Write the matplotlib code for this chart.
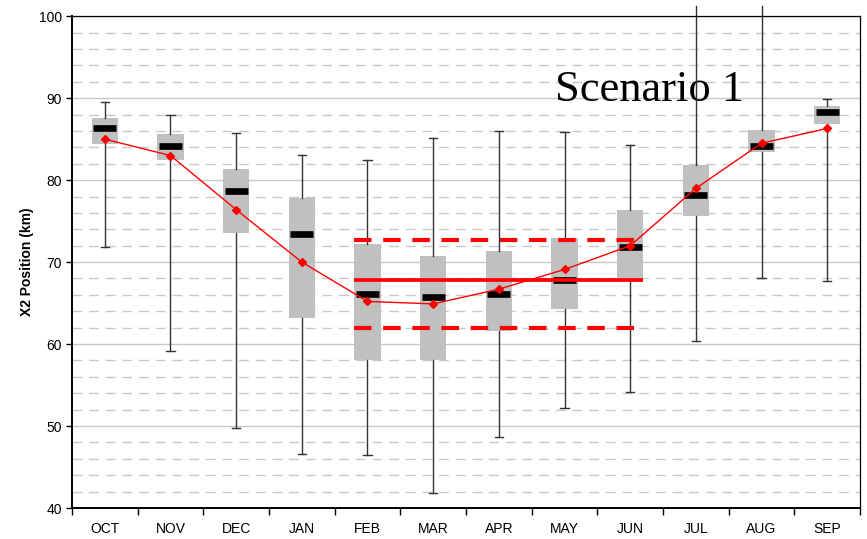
"""
X2 position box plots by month, scenario 1
"""
import numpy as np
import matplotlib.pyplot as plt
from matplotlib.ticker import MultipleLocator, FixedLocator

#%%
# data

months = ["OCT", "NOV", "DEC", "JAN", "FEB", "MAR",
          "APR", "MAY", "JUN", "JUL", "AUG", "SEP"]

whis_lo = [71.9, 59.1, 49.7, 46.6, 46.5, 41.8, 48.7, 52.2, 54.1, 60.4, 68.0, 67.7]
q1      = [84.4, 82.5, 73.6, 63.2, 58.1, 58.1, 61.6, 64.3, 67.8, 75.6, 83.4, 86.9]
median  = [86.4, 84.2, 78.7, 73.4, 66.1, 65.8, 66.1, 67.8, 71.9, 78.2, 84.2, 88.3]
q3      = [87.6, 85.6, 81.3, 77.8, 72.2, 70.7, 71.3, 72.9, 76.4, 81.9, 86.1, 89.0]
whis_hi = [89.5, 88.0, 85.7, 83.1, 82.5, 85.1, 86.0, 85.9, 84.3, 101.3, 101.3, 89.9]
mean    = [85.0, 83.0, 76.4, 70.0, 65.2, 64.9, 66.7, 69.1, 72.0, 79.0, 84.5, 86.3]

# reference band Feb - Jun
band_mid = 67.8
band_hi = 72.7
band_lo = 62.0

#%%
fig = plt.figure(figsize=(8.67, 5.39), dpi=100)
ax = fig.add_axes([0.083, 0.0575, 0.909, 0.9125])

x = np.arange(len(months))

stats = []
for i in range(len(months)):
    stats.append(dict(med=median[i], q1=q1[i], q3=q3[i],
                      whislo=whis_lo[i], whishi=whis_hi[i], fliers=[]))

bp = ax.bxp(stats, positions=x, widths=0.4, patch_artist=True,
            showfliers=False, capwidths=0.13,
            boxprops=dict(facecolor="#C0C0C0", edgecolor="none"),
            medianprops=dict(color="black", lw=4.8, solid_capstyle="butt"),
            whiskerprops=dict(color="#333333", lw=1),
            capprops=dict(color="#333333", lw=1))

# whiskers going past the top of the axis
for w in bp["whiskers"]:
    w.set_clip_on(False)
for c in bp["caps"]:
    if c.get_ydata()[0] > 100:
        c.set_visible(False)
for m in bp["medians"]:
    xd = m.get_xdata()
    c0 = (xd[0] + xd[1]) / 2
    m.set_xdata([c0 - 0.175, c0 + 0.175])

# mean line
ax.plot(x, mean, color="red", lw=1, marker="D", ms=4.5, zorder=5)

# band lines
ax.hlines(band_mid, 3.8, 8.2, color="red", lw=2.7, zorder=4)
ax.hlines([band_hi, band_lo], 3.8, 8.2, color="red", lw=3,
          linestyles=(0, (4.2, 2.8)), zorder=4)

ax.text(6.85, 89.6, "Scenario 1", family="Liberation Serif", fontsize=32,
        zorder=1)

#%%
# axes and grid
ax.set_xlim(-0.5, 11.5)
ax.set_ylim(40, 100)
ax.yaxis.set_major_locator(MultipleLocator(10))
ax.yaxis.set_minor_locator(MultipleLocator(2))
ax.grid(True, which="major", axis="y", color="#C8C8C8", lw=1)
ax.grid(True, which="minor", axis="y", color="#C8C8C8", lw=1, ls=(0, (7, 5)))
ax.set_axisbelow(True)

ax.set_xticks(x)
ax.set_xticklabels(months, family="Liberation Sans", fontsize=10)
ax.xaxis.set_minor_locator(FixedLocator(np.arange(-0.5, 12, 1)))
ax.tick_params(axis="x", which="major", length=0, pad=10)
ax.tick_params(axis="x", which="minor", length=5, width=1, direction="out")
ax.tick_params(axis="y", which="major", length=4, width=1, labelsize=10, pad=3)
ax.tick_params(axis="y", which="minor", length=0)
for lab in ax.get_yticklabels():
    lab.set_family("Liberation Sans")

for s in ["left", "bottom"]:
    ax.spines[s].set_linewidth(1.4)
for s in ["top", "right"]:
    ax.spines[s].set_linewidth(0.9)

ax.set_ylabel("X2 Position (km)", family="Liberation Sans", fontsize=10,
              fontweight="bold", labelpad=4)

fig.savefig("out.png", dpi=100)
